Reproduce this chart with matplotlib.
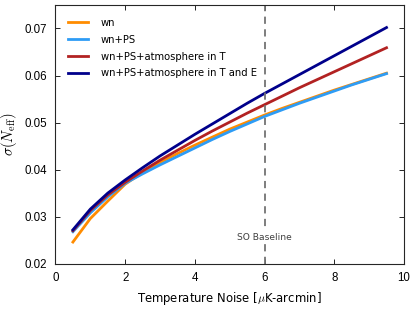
import matplotlib
matplotlib.use("Agg")
import matplotlib.pyplot as plt

noise = [0.5, 1.0, 1.5, 2.0, 2.5, 3.0, 3.5, 4.0, 4.5, 5.0, 5.5, 6.0, 6.5, 7.0, 7.5, 8.0, 8.5, 9.0, 9.5]
wn = [0.0246, 0.0296, 0.0333, 0.0369, 0.0394, 0.0415, 0.0434, 0.0452, 0.0469, 0.0486, 0.0501, 0.0516,
      0.0530, 0.0543, 0.0556, 0.0569, 0.0581, 0.0593, 0.0605]
wn_ps = [0.0268, 0.0308, 0.0342, 0.0371, 0.0391, 0.0410, 0.0428, 0.0446, 0.0464, 0.0481, 0.0497, 0.0513,
         0.0527, 0.0541, 0.0554, 0.0567, 0.0580, 0.0592, 0.0604]
wn_ps_atmT = [0.0270, 0.0313, 0.0346, 0.0373, 0.0397, 0.0420, 0.0441, 0.0462, 0.0482, 0.0501, 0.0520, 0.0538,
              0.0556, 0.0574, 0.0591, 0.0608, 0.0625, 0.0642, 0.0659]
wn_ps_atmTE = [0.0272, 0.0316, 0.0350, 0.0378, 0.0404, 0.0429, 0.0452, 0.0475, 0.0497, 0.0519, 0.0541, 0.0562,
               0.0582, 0.0602, 0.0622, 0.0642, 0.0662, 0.0682, 0.0702]
labels = ["wn", "wn+PS", "wn+PS+atmosphere in T", "wn+PS+atmosphere in T and E"]
colors = ["#ff8c00", "#2e9cf5", "#b22222", "#00008b"]
baseline = 6
xticks = [0, 2, 4, 6, 8, 10]
yticks = [0.02, 0.03, 0.04, 0.05, 0.06, 0.07]

plt.rcParams['font.family'] = ['Liberation Sans', 'DejaVu Sans']
plt.rcParams['mathtext.fontset'] = 'cm'

fig = plt.figure(figsize=(4.16, 3.10), dpi=100)
ax = fig.add_axes([0.1334, 0.1494, 0.8376, 0.8346])

for ys, lab, c in zip([wn, wn_ps, wn_ps_atmT, wn_ps_atmTE], labels, colors):
    ax.plot(noise, ys, color=c, lw=2.0, label=lab)

ax.axvline(baseline, color='0.45', ls='--', lw=1.3, dashes=(4, 3))
ax.text(baseline, 0.02555, "SO Baseline", ha='center', va='center', fontsize=6.6, color='0.25',
        family='DejaVu Sans', bbox=dict(facecolor='white', edgecolor='none', pad=1.5))

ax.set_xlim(0, 10)
ax.set_ylim(0.02, 0.075)
ax.set_xticks(xticks)
ax.set_yticks(yticks)
ax.set_xticklabels([str(t) for t in xticks])
ax.set_yticklabels(["%.2f" % t for t in yticks])
ax.tick_params(direction='in', top=True, right=True, labelsize=8.3, length=3.5, width=0.6, pad=6)
for s in ax.spines.values():
    s.set_linewidth(0.8)
    s.set_color('0.15')

ax.set_xlabel(r"Temperature Noise [$\mu$K-arcmin]", fontsize=8.4, family='DejaVu Sans', labelpad=4)
ax.set_ylabel(r"$\sigma(N_{\rm eff})$", fontsize=10.5)

ax.legend(loc='upper left', frameon=False, prop={'family': 'DejaVu Sans', 'size': 7.2},
          handlelength=2.0, handletextpad=1.25, labelspacing=0.68, borderpad=0.4, borderaxespad=0.9)

fig.savefig("out.png", dpi=100)
